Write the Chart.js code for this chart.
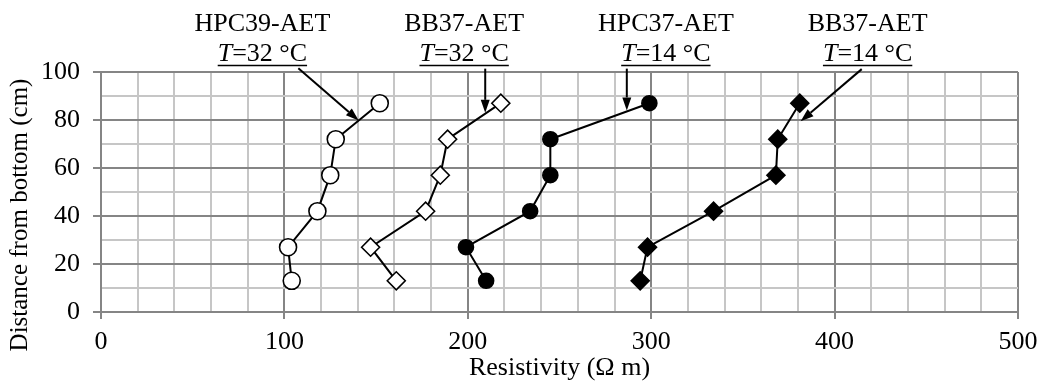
<!DOCTYPE html>
<html>
<head>
<meta charset="utf-8">
<script src="https://cdn.jsdelivr.net/npm/chart.js@4.4.1/dist/chart.umd.min.js"></script>
<style>
  html, body { margin: 0; padding: 0; background: #fff; }
  #chart { display: block; }
</style>
</head>
<body>
<canvas id="chart" width="1046" height="385"></canvas>
<script>
// Resistivity profiles over the column height

const depths = [13, 27, 42, 57, 72, 87];

const hpc39At32 = [104, 102, 118, 125, 128, 152];
const bb37At32 = [161, 147, 177, 185, 189, 218];
const hpc37At14 = [210, 199, 234, 245, 245, 299];
const bb37At14 = [294, 298, 334, 368, 369, 381];

const seriesNames = ['HPC39-AET', 'BB37-AET', 'HPC37-AET', 'BB37-AET'];
const seriesTemps = ['32', '32', '14', '14'];

const xTicks = [0, 100, 200, 300, 400, 500];
const yTicks = [0, 20, 40, 60, 80, 100];

const FONT = "'Liberation Serif', 'Times New Roman', serif";
const MAJOR = '#858585';
const MINOR = '#c6c6c6';

function toPoints(xs) {
    return xs.map((x, i) => ({ x: x, y: depths[i] }));
}

// label placement: centre in resistivity units, arrow from/to in data units
const callouts = [
    { cx: 88,  from: [107.6, 101.6], to: [140.5, 79.8] },
    { cx: 198, from: [209.5, 101.4], to: [209.5, 83.0] },
    { cx: 308, from: [286.7, 101.4], to: [286.7, 84.0] },
    { cx: 418, from: [414.8, 101.2], to: [381.5, 79.5] }
];

const calloutPlugin = {
    id: 'callouts',
    afterDatasetsDraw(chart) {
        const { ctx, chartArea, scales } = chart;
        const xs = scales.x, ys = scales.y;
        ctx.save();
        ctx.fillStyle = '#000';
        ctx.strokeStyle = '#000';

        callouts.forEach((c, i) => {
            const cx = xs.getPixelForValue(c.cx);

            // first line: sample name
            ctx.font = '26px ' + FONT;
            ctx.textAlign = 'center';
            ctx.textBaseline = 'alphabetic';
            ctx.fillText(seriesNames[i], cx, chartArea.top - 41);

            // second line: italic T + rest, underlined
            const italic = 'italic 26px ' + FONT;
            const normal = '26px ' + FONT;
            const rest = '=' + seriesTemps[i] + ' \u00B0C';
            ctx.font = italic;
            const wT = ctx.measureText('T').width;
            ctx.font = normal;
            const wR = ctx.measureText(rest).width;
            const left = cx - (wT + wR) / 2;
            const base = chartArea.top - 11;
            ctx.textAlign = 'left';
            ctx.font = italic;
            ctx.fillText('T', left, base);
            ctx.font = normal;
            ctx.fillText(rest, left + wT, base);
            ctx.lineWidth = 1.6;
            ctx.beginPath();
            ctx.moveTo(left, base + 4.5);
            ctx.lineTo(left + wT + wR, base + 4.5);
            ctx.stroke();

            // arrow
            const x1 = xs.getPixelForValue(c.from[0]), y1 = ys.getPixelForValue(c.from[1]);
            const x2 = xs.getPixelForValue(c.to[0]), y2 = ys.getPixelForValue(c.to[1]);
            const ang = Math.atan2(y2 - y1, x2 - x1);
            const headLen = 13, headW = 4.5;
            const bx = x2 - headLen * Math.cos(ang), by = y2 - headLen * Math.sin(ang);
            ctx.lineWidth = 2;
            ctx.beginPath();
            ctx.moveTo(x1, y1);
            ctx.lineTo(bx, by);
            ctx.stroke();
            ctx.beginPath();
            ctx.moveTo(x2, y2);
            ctx.lineTo(bx + headW * Math.sin(ang), by - headW * Math.cos(ang));
            ctx.lineTo(bx - headW * Math.sin(ang), by + headW * Math.cos(ang));
            ctx.closePath();
            ctx.fill();
        });

        // y axis title, drawn by hand so it can sit a little below centre
        ctx.font = '25px ' + FONT;
        ctx.textAlign = 'center';
        ctx.textBaseline = 'middle';
        ctx.translate(20, (chartArea.top + chartArea.bottom) / 2 + 23);
        ctx.rotate(-Math.PI / 2);
        ctx.fillText('Distance from bottom (cm)', 0, 0);
        ctx.restore();
    }
};

function series(xs, shape, radius, fill) {
    return {
        data: toPoints(xs),
        showLine: true,
        borderColor: '#000',
        borderWidth: 2,
        pointStyle: shape,
        pointRadius: radius,
        pointHoverRadius: radius,
        pointBorderWidth: 1.6,
        pointBorderColor: '#000',
        pointBackgroundColor: fill
    };
}

new Chart(document.getElementById('chart'), {
    type: 'scatter',
    data: {
        datasets: [
            series(hpc39At32, 'circle', 8.5, '#fff'),
            series(bb37At32, 'rectRot', 9, '#fff'),
            series(hpc37At14, 'circle', 7.5, '#000'),
            series(bb37At14, 'rectRot', 9, '#000')
        ]
    },
    options: {
        responsive: false,
        animation: false,
        events: [],
        layout: { padding: { top: 72, right: 28, left: 0, bottom: 0 } },
        scales: {
            x: {
                type: 'linear',
                min: 0,
                max: 500,
                afterFit: (s) => { s.height = 73; },
                ticks: {
                    stepSize: 20,
                    autoSkip: false,
                    maxRotation: 0,
                    padding: 8,
                    color: '#000',
                    font: { family: FONT, size: 26 },
                    callback: (v) => xTicks.includes(v) ? String(v) : ''
                },
                grid: {
                    color: (c) => c.tick && c.tick.value % 100 === 0 ? MAJOR : MINOR,
                    lineWidth: 2,
                    tickLength: 7,
                    tickColor: (c) => c.tick && c.tick.value % 100 === 0 ? MAJOR : 'rgba(0,0,0,0)',
                    tickWidth: 2
                },
                border: { color: MAJOR, width: 2 },
                title: {
                    display: true,
                    text: 'Resistivity (\u03A9 m)',
                    color: '#000',
                    font: { family: FONT, size: 26 },
                    padding: { top: 0, bottom: 1 }
                }
            },
            y: {
                type: 'linear',
                min: 0,
                max: 100,
                afterFit: (s) => { s.width = 101; },
                ticks: {
                    stepSize: 10,
                    autoSkip: false,
                    padding: 13,
                    color: '#000',
                    font: { family: FONT, size: 26 },
                    callback: (v) => yTicks.includes(v) ? String(v) : ''
                },
                grid: {
                    color: (c) => c.tick && c.tick.value % 20 === 0 ? MAJOR : MINOR,
                    lineWidth: 2,
                    tickLength: 8,
                    tickColor: (c) => c.tick && c.tick.value % 20 === 0 ? MAJOR : 'rgba(0,0,0,0)',
                    tickWidth: 2
                },
                border: { color: MAJOR, width: 2 }
            }
        },
        plugins: {
            legend: { display: false },
            tooltip: { enabled: false }
        }
    },
    plugins: [calloutPlugin]
});
</script>
</body>
</html>
